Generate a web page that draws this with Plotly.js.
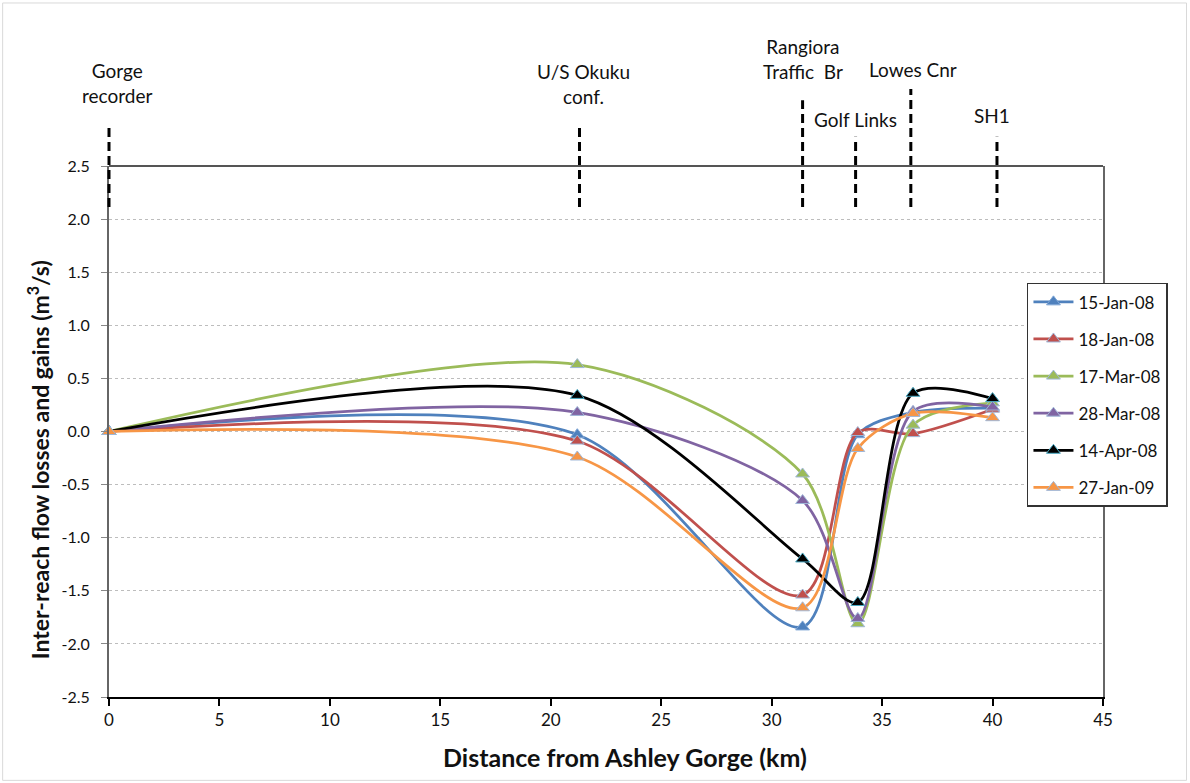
<!DOCTYPE html>
<html>
<head>
<meta charset="utf-8">
<script src="https://cdn.plot.ly/plotly-3.0.1.min.js"></script>
<style>html,body{margin:0;padding:0;background:#fff}#chart{width:1190px;height:783px}</style>
</head>
<body>
<div id="chart"></div>
<script>
// Distances of sampling sites (km)
const distances = [0, 21.2, 31.4, 33.9, 36.4, 40.0];

// Inter-reach flow losses and gains (m3/s)
const seriesNames = ["15-Jan-08", "18-Jan-08", "17-Mar-08", "28-Mar-08", "14-Apr-08", "27-Jan-09"];
const jan15_08 = [0, -0.03, -1.84, -0.03, 0.18, 0.22];
const jan18_08 = [0, -0.09, -1.54, -0.01, -0.02, 0.21];
const mar17_08 = [0, 0.63, -0.40, -1.81, 0.06, 0.27];
const mar28_08 = [0, 0.18, -0.65, -1.76, 0.19, 0.23];
const apr14_08 = [0, 0.34, -1.20, -1.61, 0.36, 0.31];
const jan27_09 = [0, -0.24, -1.66, -0.16, 0.17, 0.13];

// Landmarks along the river
const landmarkNames = ["Gorge<br>recorder", "U/S Okuku<br>conf.", "Rangiora<br>Traffic  Br", "Golf Links", "Lowes Cnr", "SH1"];
const landmarkKm = [0, 21.3, 31.4, 33.8, 36.3, 40.2];

const xTicks = [0, 5, 10, 15, 20, 25, 30, 35, 40, 45];
const yTicks = [-2.5, -2.0, -1.5, -1.0, -0.5, 0.0, 0.5, 1.0, 1.5, 2.0, 2.5];

const xTitle = "Distance from Ashley Gorge (km)";
const yTitle = "Inter-reach flow losses and gains (m<sup>3</sup>/s)";

const seriesValues = [jan15_08, jan18_08, mar17_08, mar28_08, apr14_08, jan27_09];
const colors = ["#4F81BD", "#C0504D", "#9BBB59", "#8064A2", "#000000", "#F79646"];
const markerEdge = ["#7FA6D6", "#9FB7D8", "#9FB7D8", "#9FB7D8", "#4BACC6", "#9FB7D8"];

const FONT = "Lato, 'Open Sans', sans-serif";
const X_RANGE = [0, 45];

const traces = seriesValues.map((vals, i) => ({
  x: distances,
  y: vals,
  name: seriesNames[i],
  legendgroup: "g" + i,
  type: "scatter",
  mode: "lines+markers",
  line: {color: colors[i], width: 2.75, shape: "spline", smoothing: 0.85},
  marker: {symbol: "triangle-up", size: 12, color: colors[i], line: {color: markerEdge[i], width: 1}},
  cliponaxis: false
}));

// landmark dashed lines (paper y) and labels
const lineTops = [1.077, 1.077, 1.124, 1.055, 1.145, 1.055];
const labelBottoms = [1.108, 1.106, 1.153, 1.062, 1.157, 1.070];
const labelShift = [8, 4, 0, 0, 2, -5];

const shapes = [];
const annotations = [];
landmarkKm.forEach((km, i) => {
  const xp = (km - X_RANGE[0]) / (X_RANGE[1] - X_RANGE[0]);
  shapes.push({type: "line", xref: "paper", yref: "paper", x0: xp, x1: xp, y0: 0.923, y1: lineTops[i],
    line: {color: "#000", width: 3, dash: "9px,5px"}});
  annotations.push({xref: "x", yref: "paper", x: km, y: labelBottoms[i], xanchor: "center", yanchor: "bottom",
    xshift: labelShift[i], text: landmarkNames[i], showarrow: false,
    font: {family: FONT, size: 19, color: "#111"}});
});
// axis titles
annotations.push({xref: "paper", yref: "paper", x: 0.519, y: -0.113, xanchor: "center", yanchor: "middle",
  text: "<b>" + xTitle + "</b>", showarrow: false, font: {family: FONT, size: 25, color: "#111"}});
annotations.push({xref: "paper", yref: "paper", x: -0.0714, y: 0.446, xanchor: "center", yanchor: "middle",
  textangle: -90, text: "<b>" + yTitle + "</b>", showarrow: false, font: {family: FONT, size: 23, color: "#111"}});

// top border of plot area
shapes.push({type: "line", xref: "paper", yref: "paper", x0: 0, x1: 1, y0: 1, y1: 1, line: {color: "#555", width: 2}});
// outer chart border
shapes.push({type: "rect", xref: "paper", yref: "paper", x0: -0.107, x1: 1.084, y0: -0.157, y1: 1.307,
  line: {color: "#d9d9d9", width: 1}});

const layout = {
  width: 1190, height: 783,
  margin: {l: 109, r: 87, t: 166, b: 86},
  paper_bgcolor: "#fff", plot_bgcolor: "#fff",
  font: {family: FONT, color: "#111"},
  showlegend: true,
  legend: {
    x: 0.9235, y: 0.78, xanchor: "left", yanchor: "top",
    bordercolor: "#333", borderwidth: 1.5, bgcolor: "#fff",
    font: {family: FONT, size: 17, color: "#111"},
    tracegroupgap: 12, itemwidth: 40
  },
  xaxis: {
    range: X_RANGE, tickvals: xTicks, ticktext: xTicks.map(String),
    showgrid: false, zeroline: false,
    showline: true, linecolor: "#000", linewidth: 2,
    ticks: "outside", ticklen: 7, tickwidth: 2, tickcolor: "#000",
    tickfont: {family: FONT, size: 17, color: "#111"}
  },
  yaxis: {
    range: [-2.5, 2.5], tickvals: yTicks, ticktext: yTicks.map(v => v.toFixed(1)),
    showgrid: true, gridcolor: "#bdbdbd", griddash: "dot", gridwidth: 1,
    zeroline: false,
    showline: true, linecolor: "#666", linewidth: 2, mirror: true,
    ticks: "outside", ticklen: 6, tickcolor: "#888",
    ticklabelstandoff: 8,
    tickfont: {family: FONT, size: 16, color: "#111"}
  },
  shapes: shapes,
  annotations: annotations
};

Plotly.newPlot("chart", traces, layout, {displayModeBar: false, staticPlot: true});
</script>
</body>
</html>
